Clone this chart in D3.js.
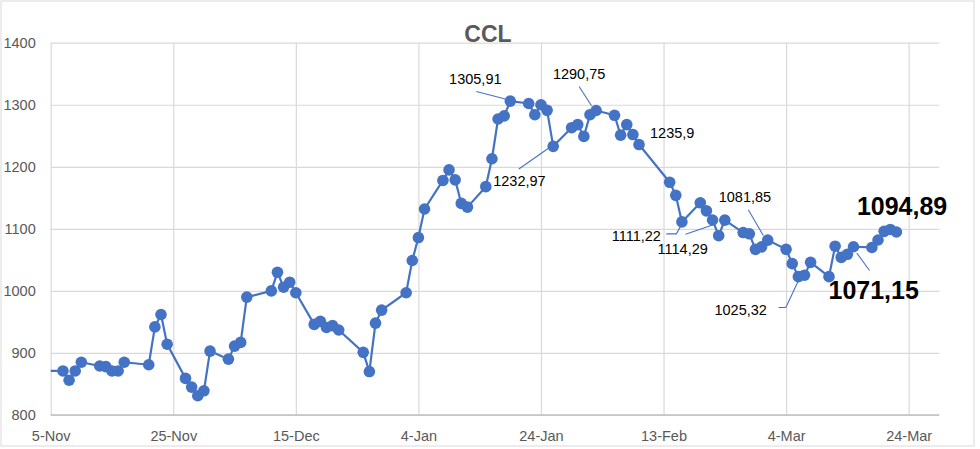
<!DOCTYPE html>
<html><head><meta charset="utf-8">
<script src="https://cdn.jsdelivr.net/npm/d3@7"></script>
<style>html,body{margin:0;padding:0;background:#fff}svg{display:block}</style>
</head><body><svg id="c" width="980" height="449"></svg>
<script>
const dates = ["2023-11-03","2023-11-07","2023-11-08","2023-11-09","2023-11-10","2023-11-13","2023-11-14","2023-11-15","2023-11-16","2023-11-17","2023-11-21","2023-11-22","2023-11-23","2023-11-24","2023-11-27","2023-11-28","2023-11-29","2023-11-30","2023-12-01","2023-12-04","2023-12-05","2023-12-06","2023-12-07","2023-12-11","2023-12-12","2023-12-13","2023-12-14","2023-12-15","2023-12-18","2023-12-19","2023-12-20","2023-12-21","2023-12-22","2023-12-26","2023-12-27","2023-12-28","2023-12-29","2024-01-02","2024-01-03","2024-01-04","2024-01-05","2024-01-08","2024-01-09","2024-01-10","2024-01-11","2024-01-12","2024-01-15","2024-01-16","2024-01-17","2024-01-18","2024-01-19","2024-01-22","2024-01-23","2024-01-24","2024-01-25","2024-01-26","2024-01-29","2024-01-30","2024-01-31","2024-02-01","2024-02-02","2024-02-05","2024-02-06","2024-02-07","2024-02-08","2024-02-09","2024-02-14","2024-02-15","2024-02-16","2024-02-19","2024-02-20","2024-02-21","2024-02-22","2024-02-23","2024-02-26","2024-02-27","2024-02-28","2024-02-29","2024-03-01","2024-03-04","2024-03-05","2024-03-06","2024-03-07","2024-03-08","2024-03-11","2024-03-12","2024-03-13","2024-03-14","2024-03-15","2024-03-18","2024-03-19","2024-03-20","2024-03-21","2024-03-22"];
const ccl = [871,871,856,871,885,879,878,871,871,885,881,942,962,914,859,845,831,839,903,890,911,917,990,1000,1030,1006,1014,997,946,951,941,944,937,901,870,948,969,997,1049,1086,1132,1178,1195,1179,1141,1135,1168,1213,1277,1282,1305.91,1302,1284,1300,1291,1232.97,1263,1268,1249,1284,1290.75,1283,1251,1268,1252,1235.9,1175,1154,1111.22,1142,1129,1114.29,1089,1114,1094,1092,1067,1071,1081.85,1067,1044,1023,1025.32,1046,1023,1072,1054,1059,1071.15,1070,1082,1096,1099,1094.89];
const yTicks = [800,900,1000,1100,1200,1300,1400];
const xTickDates = ["2023-11-05","2023-11-25","2023-12-15","2024-01-04","2024-01-24","2024-02-13","2024-03-04","2024-03-24"];
const xTickLabels = ["5-Nov","25-Nov","15-Dec","4-Jan","24-Jan","13-Feb","4-Mar","24-Mar"];
const labelDates = ["2024-01-19","2024-02-02","2024-01-26","2024-02-09","2024-02-16","2024-02-21","2024-03-01","2024-03-07","2024-03-15","2024-03-22"];
const labelTexts = ["1305,91","1290,75","1232,97","1235,9","1111,22","1114,29","1081,85","1025,32","1071,15","1094,89"];
const title = "CCL";

// layout (label placement relative to the point; leader polylines relative to the point)
const labelLayout = [
  {dx:-35, dy:-17, anchor:"middle", bold:false, leader:[[-34,-9.6],[-5,-2]]},
  {dx:-17, dy:-31, anchor:"middle", bold:false, leader:[[-17,-24],[-4.6,-4.7]]},
  {dx:-60, dy:40, anchor:"start", bold:false, leader:[[-34.4,22.6],[-4.4,1.6]]},
  {dx:11, dy:-7, anchor:"start", bold:false, leader:null},
  {dx:-21, dy:19, anchor:"end", bold:false, leader:[[-15.6,12],[-5.6,12],[-1.6,5]]},
  {dx:-55, dy:34, anchor:"start", bold:false, leader:[[-27,14.3],[0,5]]},
  {dx:-49, dy:-38, anchor:"start", bold:false, leader:[[-19.4,-30.4],[-4.4,-4.7]]},
  {dx:-90, dy:40, anchor:"start", bold:false, leader:[[-26,32.3],[-18.6,32.3],[-3.6,0]]},
  {dx:-25, dy:52, anchor:"start", bold:true, leader:[[16,23.7],[3.3,6.3]]},
  {dx:-39.5, dy:-17.5, anchor:"start", bold:true, leader:null}
];

const parse = d3.timeParse("%Y-%m-%d");
const data = dates.map((d,i)=>({date:parse(d), v:ccl[i]}));

const svg = d3.select("#c");
const L = 50.7, R = 939.3, T = 42.7, B = 415;
const x = d3.scaleTime().domain([parse("2023-11-05"), d3.timeDay.offset(parse("2024-03-24"), 5.08)]).range([L, R]);
const y = d3.scaleLinear().domain([800,1400]).range([B, T]);

// outer border
svg.append("rect").attr("x",1).attr("y",1).attr("width",973).attr("height",445)
  .attr("fill","#fff").attr("stroke","#d9d9d9").attr("stroke-width",1);

// title
svg.append("text").attr("x",488).attr("y",42).attr("text-anchor","middle")
  .attr("font-family","Liberation Sans, Arial, sans-serif").attr("font-weight","bold")
  .attr("font-size",23).attr("fill","#595959").text(title);

// horizontal grid
const yAxis = d3.axisLeft(y).tickValues(yTicks).tickSize(-(R-L)).tickFormat(d3.format("d"));
const gy = svg.append("g").attr("transform",`translate(${L},0)`).call(yAxis);
gy.select(".domain").remove();
gy.selectAll(".tick line").attr("stroke","#d9d9d9").attr("stroke-width",1.2);
gy.selectAll(".tick text").attr("x",-15).attr("fill","#595959")
  .attr("font-family","Liberation Sans, Arial, sans-serif").attr("font-size",14.5);

// vertical grid + x labels
const xTickVals = xTickDates.map(parse);
const xAxis = d3.axisBottom(x).tickValues(xTickVals).tickSize(-(B-T))
  .tickFormat((d,i)=>xTickLabels[i]);
const gx = svg.append("g").attr("transform",`translate(0,${B})`).call(xAxis);
gx.select(".domain").remove();
gx.selectAll(".tick line").attr("stroke","#d9d9d9").attr("stroke-width",1.2);
gx.selectAll(".tick text").attr("y",16).attr("fill","#595959")
  .attr("font-family","Liberation Sans, Arial, sans-serif").attr("font-size",14.5);

// bottom axis line
svg.append("line").attr("x1",L).attr("x2",R).attr("y1",B).attr("y2",B)
  .attr("stroke","#bfbfbf").attr("stroke-width",1.3);

// clip
svg.append("clipPath").attr("id","clip").append("rect")
  .attr("x",L).attr("y",0).attr("width",R-L+20).attr("height",449);
const g = svg.append("g").attr("clip-path","url(#clip)");

const line = d3.line().x(d=>x(d.date)).y(d=>y(d.v));
g.append("path").datum(data).attr("d",line).attr("fill","none")
  .attr("stroke","#4472C4").attr("stroke-width",2.2).attr("stroke-linejoin","round");
g.selectAll("circle").data(data).join("circle")
  .attr("cx",d=>x(d.date)).attr("cy",d=>y(d.v)).attr("r",5.8).attr("fill","#4472C4");

// data labels
const lg = svg.append("g");
labelDates.forEach((ds,i)=>{
  const dt = parse(ds);
  const idx = dates.indexOf(ds);
  const px = x(dt), py = y(ccl[idx]);
  const lay = labelLayout[i];
  if (lay.leader) {
    lg.append("path").attr("d", d3.line()(lay.leader.map(p=>[px+p[0], py+p[1]])))
      .attr("fill","none").attr("stroke","#4472C4").attr("stroke-width",1.1);
  }
  lg.append("text").attr("x",px+lay.dx).attr("y",py+lay.dy)
    .attr("text-anchor",lay.anchor)
    .attr("font-family","Liberation Sans, Arial, sans-serif")
    .attr("font-weight",lay.bold?"bold":"normal")
    .attr("font-size",lay.bold?25:14.5)
    .attr("fill","#000").text(labelTexts[i]);
});
</script></body></html>
